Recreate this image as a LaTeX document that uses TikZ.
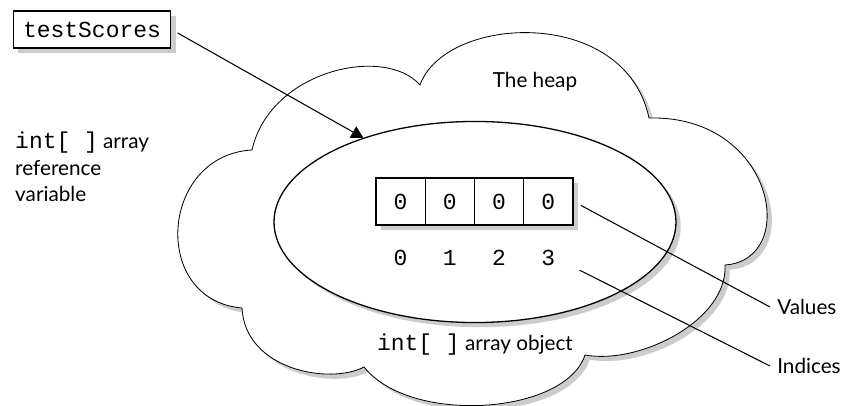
\documentclass[tikz,border=0pt]{standalone}
\usepackage{fontspec}
\setmainfont{Lato}
\setmonofont{Liberation Mono}
\usetikzlibrary{shapes.geometric,shadows,arrows.meta}

\newcommand{\code}[1]{{\fontsize{19.5}{22}\ttfamily #1}}

\tikzstyle{boxshadow} = [drop shadow={opacity=1, fill=black!20, shadow xshift=4pt, shadow yshift=-4pt}]
\tikzstyle{varbox} = [draw, line width=1.1pt, fill=white, boxshadow, minimum width=134pt, minimum height=31.5pt, inner sep=0pt, font=\fontsize{19.5}{22}\ttfamily]
\tikzstyle{cell} = [draw, line width=1.1pt, fill=white, boxshadow, minimum width=41.9pt, minimum height=40pt, inner sep=0pt, font=\fontsize{19.5}{22}\ttfamily]
\tikzstyle{index} = [inner sep=0pt, font=\fontsize{19.5}{22}\ttfamily]
\tikzstyle{lbl} = [inner sep=0pt, font=\fontsize{17.6}{22.5}\selectfont]
\tikzstyle{pointer} = [draw, line width=0.9pt]

\begin{document}
\begin{tikzpicture}[x=0.85pt, y=-0.85pt]
	\useasboundingbox (0,0) rectangle (851,406);
	\draw[boxshadow, fill=white, line width=0.7pt] (252,150) .. controls (270,70) and (385,45) .. (420,85)
		.. controls (445,15) and (625,5) .. (649,118)
		.. controls (775,115) and (800,260) .. (725,265)
		.. controls (728,320) and (640,365) .. (585,355)
		.. controls (565,415) and (410,425) .. (364,367)
		.. controls (330,385) and (245,370) .. (242,308)
		.. controls (150,300) and (160,155) .. cycle;
	\node [ellipse, draw, line width=1.1pt, fill=white, boxshadow, minimum width=341.7pt, minimum height=170.9pt, inner sep=0pt] (obj) at (475,222) {};

	\node [varbox] (ts) at (92,29.5) {testScores};
	\node [lbl, anchor=north west, align=left] (refvar) at (15,132) {\code{int[ ]} array\\reference\\variable};
	\node [lbl, anchor=base] (heap) at (535,88) {The heap};
	\node [lbl, anchor=base] (objname) at (475,350) {\code{int[ ]} array object};

	\foreach \i in {0,...,3} {
		\node [cell] (c\i) at ({400.6+49.25*\i},201.5) {0};
		\node [index] (i\i) at ({400.6+49.25*\i},258) {\i};
	}

	\node [lbl, anchor=west, inner xsep=6pt] (vals) at (770,307) {Values};
	\node [lbl, anchor=west, inner xsep=6pt] (ind) at (770,366) {Indices};

	\draw [pointer, -{Triangle[length=10pt,width=11pt]}, shorten <=6pt] (ts.east) -- (obj.143);
	\draw [pointer, shorten <=7pt] (c3.east) -- (vals.west);
	\draw [pointer, shorten <=23pt] (i3.east) -- (ind.west);
\end{tikzpicture}
\end{document}
